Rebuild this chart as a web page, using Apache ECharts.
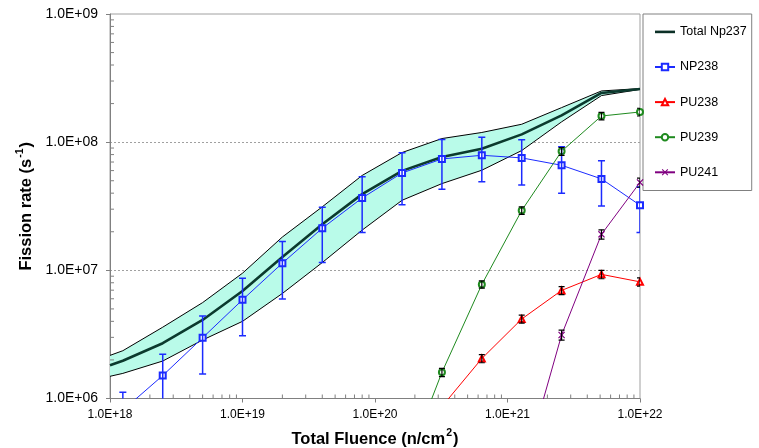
<!DOCTYPE html>
<html><head><meta charset="utf-8">
<script src="https://cdn.jsdelivr.net/npm/echarts@6/dist/echarts.min.js"></script>
<style>html,body{margin:0;padding:0;background:#fff}#c{width:759px;height:448px}</style>
</head><body><div id="c"></div>
<script>
// ---- data ----
const totalFluence = [1e18, 1.25e18, 2.5e18, 5e18, 1e19, 2e19, 4e19, 8e19, 1.6e20, 3.2e20, 6.4e20, 1.28e21, 2.56e21, 5.12e21, 1e22];
const totalNp237 = [1.82e6, 1.97e6, 2.7e6, 4.1e6, 6.9e6, 1.27e7, 2.29e7, 3.93e7, 5.97e7, 7.67e7, 8.9e7, 1.15e8, 1.62e8, 2.42e8, 2.6e8];
const totalUpper = [2.17e6, 2.36e6, 3.6e6, 5.6e6, 9.5e6, 1.82e7, 3.13e7, 5.5e7, 8.3e7, 1.067e8, 1.19e8, 1.38e8, 1.86e8, 2.51e8, 2.62e8];
const totalLower = [1.49e6, 1.57e6, 1.96e6, 2.86e6, 4.0e6, 6.6e6, 1.15e7, 2.06e7, 3.52e7, 4.75e7, 6.04e7, 8.6e7, 1.44e8, 2.31e8, 2.58e8];

const np238Fluence = [1.25e18, 2.5e18, 5e18, 1e19, 2e19, 4e19, 8e19, 1.6e20, 3.2e20, 6.4e20, 1.28e21, 2.56e21, 5.12e21, 1e22];
const np238 = [0.81e6, 1.51e6, 2.98e6, 5.89e6, 1.138e7, 2.13e7, 3.67e7, 5.75e7, 7.4e7, 7.9e7, 7.54e7, 6.6e7, 5.17e7, 3.22e7];
const np238Err = [0.31e6, 0.7e6, 1.43e6, 2.8e6, 0.54e7, 0.98e7, 1.7e7, 2.5e7, 3.1e7, 3.0e7, 2.9e7, 2.6e7, 2.0e7, 1.25e7];

const pu238Fluence = [3.2e20, 6.4e20, 1.28e21, 2.56e21, 5.12e21, 1e22];
const pu238 = [8.65e5, 2.05e6, 4.17e6, 6.97e6, 9.3e6, 8.13e6];
const pu238Err = [0.6e5, 1.5e5, 3.0e5, 5.0e5, 7.0e5, 6.0e5];

const pu239Fluence = [1.6e20, 3.2e20, 6.4e20, 1.28e21, 2.56e21, 5.12e21, 1e22];
const pu239 = [2.5e5, 1.6e6, 7.76e6, 2.93e7, 8.49e7, 1.6e8, 1.72e8];
const pu239Err = [0.2e5, 1.2e5, 5.0e5, 2.0e6, 6.0e6, 1.1e7, 1.2e7];

const pu241Fluence = [1.28e21, 2.56e21, 5.12e21, 1e22];
const pu241 = [2.5e5, 3.13e6, 1.91e7, 4.85e7];
const pu241Err = [0.2e5, 2.8e5, 1.6e6, 4.0e6];

const seriesNames = ['Total Np237', 'NP238', 'PU238', 'PU239', 'PU241'];
// minor tick positions (2..9 within each decade)
const yMinorTicks = [], xMinorTicks = [];
for (let e = 6; e < 9; e++) for (let m = 2; m <= 9; m++) yMinorTicks.push(m * Math.pow(10, e));
for (let e = 18; e < 22; e++) for (let m = 2; m <= 9; m++) xMinorTicks.push(m * Math.pow(10, e));

// ---- chart ----
const FONT = "'Liberation Sans', Arial, sans-serif";
const zip = (xs, ys) => xs.map((x, i) => [x, ys[i]]);
const fmt = v => { const e = Math.round(Math.log10(v)); return '1.0E+' + (e < 10 ? '0' : '') + e; };

function errSeries(name, xs, ys, errs, color, width, cap) {
  return {
    type: 'custom', name: name, clip: true, z: 6, silent: true,
    data: xs.map((x, i) => [x, Math.max(ys[i] - errs[i], 1), ys[i] + errs[i]]),
    encode: { x: 0, y: [1, 2] },
    renderItem: (params, api) => {
      const x = api.value(0);
      const a = api.coord([x, api.value(1)]);
      const b = api.coord([x, api.value(2)]);
      const st = { stroke: color, lineWidth: width };
      return { type: 'group', children: [
        { type: 'line', shape: { x1: a[0], y1: a[1], x2: b[0], y2: b[1] }, style: st },
        { type: 'line', shape: { x1: a[0] - cap, y1: a[1], x2: a[0] + cap, y2: a[1] }, style: st },
        { type: 'line', shape: { x1: b[0] - cap, y1: b[1], x2: b[0] + cap, y2: b[1] }, style: st }
      ]};
    }
  };
}

const xMark = 'path://M0,1.2L1.2,0L5,3.8L8.8,0L10,1.2L6.2,5L10,8.8L8.8,10L5,6.2L1.2,10L0,8.8L3.8,5Z';
const richName = {
  b: { fontFamily: FONT, fontSize: 16.5, fontWeight: 'bold', color: '#000', lineHeight: 20, verticalAlign: 'bottom' },
  s: { fontFamily: FONT, fontSize: 10.5, fontWeight: 'bold', color: '#000', lineHeight: 20, verticalAlign: 'top', padding: [0, 1, 7, 1] }
};

const option = {
  animation: false,
  backgroundColor: '#fff',
  grid: { left: 110, top: 14, width: 530, height: 384.5, show: true, borderColor: '#a0a0a0', borderWidth: 1,
          containLabel: false, outerBoundsMode: 'none' },
  legend: {
    data: [
      { name: 'Total Np237', icon: 'path://M0,0L20,0L20,2.6L0,2.6Z' },
      'NP238', 'PU238', 'PU239', 'PU241'
    ],
    orient: 'vertical', left: 643, top: 14,
    padding: [11.4, 5, 11.7, 11], itemGap: 22.1, itemWidth: 20, itemHeight: 8,
    borderColor: '#808080', borderWidth: 1, backgroundColor: '#fff',
    textStyle: { fontFamily: FONT, fontSize: 12.5, color: '#000' }
  },
  xAxis: {
    type: 'log', logBase: 10, min: 1e18, max: 1e22,
    name: '{b|Total Fluence (n/cm}{s|2}{b|)}', nameLocation: 'middle', nameGap: 29,
    nameTextStyle: { rich: richName },
    axisLine: { lineStyle: { color: '#808080', width: 1 } },
    axisTick: { inside: false, length: 4, lineStyle: { color: '#808080' } },
    axisLabel: { formatter: fmt, margin: 10, fontFamily: FONT, fontSize: 12, color: '#000' },
    splitLine: { show: false }, minorTick: { show: false }
  },
  yAxis: {
    type: 'log', logBase: 10, min: 1e6, max: 1e9,
    name: '{b|Fission rate (s}{s|-1}{b|)}', nameLocation: 'middle', nameGap: 66,
    nameTextStyle: { rich: richName },
    axisLine: { show: true, lineStyle: { color: '#808080', width: 1 } },
    axisTick: { inside: false, length: 4, lineStyle: { color: '#808080' } },
    axisLabel: { formatter: fmt, margin: 12, fontFamily: FONT, fontSize: 14, color: '#000' },
    splitLine: { show: true, showMinLine: false, showMaxLine: false, lineStyle: { color: '#a0a0a0', type: [2, 2], width: 1 } },
    minorTick: { show: false }
  },
  series: [
    // band fill
    {
      type: 'custom', name: 'band', silent: true, z: 1, clip: true,
      data: [[totalFluence[0], totalLower[0]]],
      encode: { x: 0, y: 1 },
      renderItem: (params, api) => {
        const pts = [];
        for (let i = 0; i < totalFluence.length; i++) pts.push(api.coord([totalFluence[i], totalUpper[i]]));
        for (let i = totalFluence.length - 1; i >= 0; i--) pts.push(api.coord([totalFluence[i], totalLower[i]]));
        return { type: 'polygon', shape: { points: pts }, style: { fill: '#b9fbe9', stroke: null } };
      }
    },
    { type: 'line', name: 'upper', data: zip(totalFluence, totalUpper), symbol: 'none', z: 2, silent: true,
      lineStyle: { color: '#000', width: 1 } },
    { type: 'line', name: 'lower', data: zip(totalFluence, totalLower), symbol: 'none', z: 2, silent: true,
      lineStyle: { color: '#000', width: 1 } },
    { type: 'line', name: 'Total Np237', data: zip(totalFluence, totalNp237), symbol: 'none', z: 3,
      itemStyle: { color: '#0b2f26' }, lineStyle: { color: '#0b3a2e', width: 2.6 } },
    { type: 'line', name: 'NP238', data: zip(np238Fluence, np238), symbol: 'emptyRect', symbolSize: 6, z: 4,
      itemStyle: { color: '#1b2bff', borderColor: '#1b2bff', borderWidth: 1 }, lineStyle: { color: '#1b2bff', width: 1 } },
    { type: 'line', name: 'PU238', data: zip(pu238Fluence, pu238), symbol: 'emptyTriangle', symbolSize: 6, z: 4,
      itemStyle: { color: '#ff0000', borderColor: '#ff0000', borderWidth: 1 }, lineStyle: { color: '#ff0000', width: 1 } },
    { type: 'line', name: 'PU239', data: zip(pu239Fluence, pu239), symbol: 'emptyCircle', symbolSize: 6, z: 4,
      itemStyle: { color: '#1f8a1f', borderColor: '#1f8a1f', borderWidth: 1 }, lineStyle: { color: '#1f8a1f', width: 1 } },
    { type: 'line', name: 'PU241', data: zip(pu241Fluence, pu241), symbol: xMark, symbolSize: 7, z: 4,
      itemStyle: { color: '#800080' }, lineStyle: { color: '#800080', width: 1 } },
    errSeries('NP238 err', np238Fluence, np238, np238Err, '#1b2bff', 1.5, 3.5),
    errSeries('PU238 err', pu238Fluence, pu238, pu238Err, '#000', 1.2, 3),
    errSeries('PU239 err', pu239Fluence, pu239, pu239Err, '#000', 1.2, 3),
    errSeries('PU241 err', pu241Fluence, pu241, pu241Err, '#000', 1.2, 3),
    // minor ticks (inside)
    {
      type: 'custom', name: 'yMinor', silent: true, z: 7,
      data: yMinorTicks.map(v => [1e18, v]), encode: { x: 0, y: 1 },
      renderItem: (params, api) => {
        const p = api.coord([api.value(0), api.value(1)]);
        return { type: 'line', shape: { x1: p[0], y1: p[1], x2: p[0] + 4, y2: p[1] }, style: { stroke: '#808080', lineWidth: 1 } };
      }
    },
    {
      type: 'custom', name: 'xMinor', silent: true, z: 7,
      data: xMinorTicks.map(v => [v, 1e6]), encode: { x: 0, y: 1 },
      renderItem: (params, api) => {
        const p = api.coord([api.value(0), api.value(1)]);
        return { type: 'line', shape: { x1: p[0], y1: p[1], x2: p[0], y2: p[1] - 4 }, style: { stroke: '#808080', lineWidth: 1 } };
      }
    }
  ]
};
const chart = echarts.init(document.getElementById('c'), null, { renderer: 'canvas' });
chart.setOption(option);
</script>
</body></html>
